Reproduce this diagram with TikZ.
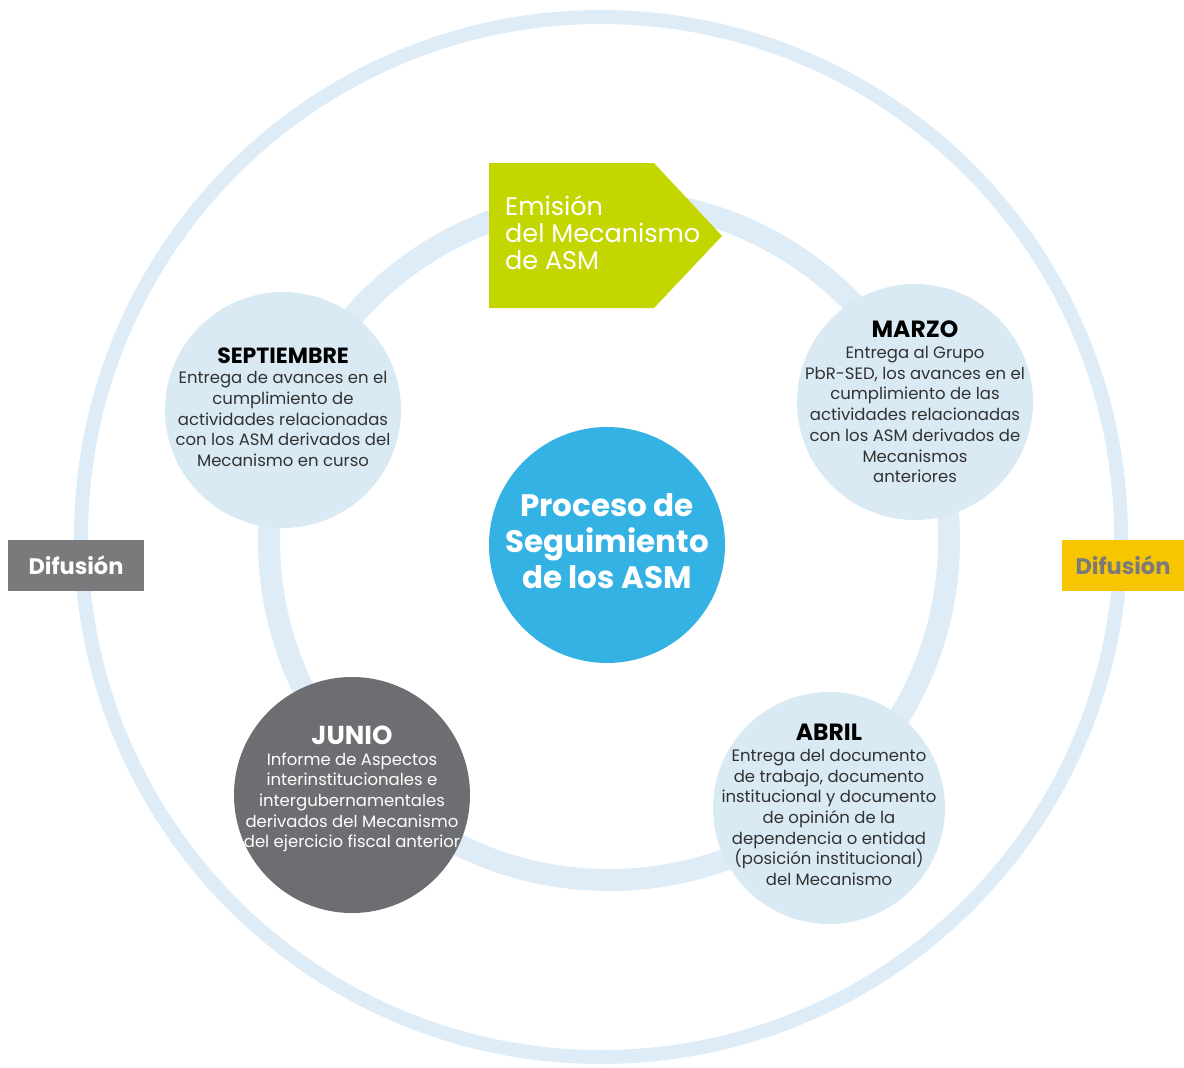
\documentclass[tikz,border=0pt]{standalone}
\usepackage{fontspec}
\setmainfont{Poppins}
\definecolor{ringblue}{RGB}{222,236,248}
\definecolor{lightcirc}{RGB}{218,234,245}
\definecolor{midblue}{RGB}{53,178,228}
\definecolor{darkgrey}{RGB}{109,110,113}
\definecolor{lime}{RGB}{196,214,0}
\definecolor{boxgrey}{RGB}{122,122,124}
\definecolor{gold}{RGB}{247,198,0}
\definecolor{bodytext}{RGB}{50,50,50}
\begin{document}
\begin{tikzpicture}[x=1pt,y=-1pt,
  monthcirc/.style={circle,fill=lightcirc,minimum size=236pt,inner sep=0pt},
  monthtext/.style={align=center,text=bodytext,inner sep=0pt,font=\fontsize{16.5}{20.7}\selectfont},
  difbox/.style={rectangle,minimum height=51pt,inner sep=0pt,font=\fontsize{22.5}{26}\selectfont\bfseries}
]
\useasboundingbox (0,0) rectangle (1184,1068);
% rings
\draw[ringblue,line width=14pt] (601,537) circle[radius=520pt];
\draw[ringblue,line width=22pt] (609,540) circle[radius=340pt];
% centre
\node (centre) [circle,fill=midblue,minimum size=236pt,inner sep=0pt] at (607,545) {};
\node (centret) [align=center,text=white,font=\fontsize{31}{36}\selectfont\bfseries] at (607,541)
  {Proceso de\\Seguimiento\\de los ASM};
% month circles
\node (sep) [monthcirc] at (283,410) {};
\node (mar) [monthcirc] at (915,402) {};
\node (jun) [monthcirc,fill=darkgrey] at (352,795) {};
\node (abr) [monthcirc,minimum size=232pt] at (829,808) {};
\node (sept) [monthtext] at (283,407)
  {{\fontsize{22}{24}\selectfont\bfseries\color{black}SEPTIEMBRE}\\[0pt]
   Entrega de avances en el\\cumplimiento de\\actividades relacionadas\\con los ASM derivados del\\Mecanismo en curso};
\node (mart) [monthtext] at (915,402)
  {{\fontsize{23.5}{24}\selectfont\bfseries\color{black}MARZO}\\[0pt]
   Entrega al Grupo\\PbR-SED, los avances en el\\cumplimiento de las\\actividades relacionadas\\con los ASM derivados de\\Mecanismos\\anteriores};
\node (junt) [monthtext,text=white] at (352,789)
  {{\fontsize{26}{26}\selectfont\bfseries JUNIO}\\[0pt]
   Informe de Aspectos\\interinstitucionales e\\intergubernamentales\\derivados del Mecanismo\\del ejercicio fiscal anterior};
\node (abrt) [monthtext] at (829,805)
  {{\fontsize{23.5}{24}\selectfont\bfseries\color{black}ABRIL}\\[0pt]
   Entrega del documento\\de trabajo, documento\\institucional y documento\\de opinión de la\\dependencia o entidad\\(posición institucional)\\del Mecanismo};
% Emision arrow
\fill[lime] (489,163) -- (654,163) -- (722,236) -- (654,308) -- (489,308) -- cycle;
\node (emi) [anchor=west,align=left,text=white,inner sep=0pt,font=\fontsize{25.5}{27}\selectfont] at (505,233)
  {Emisión\\del Mecanismo\\de ASM};
% Difusion boxes
\node (difl) [difbox,fill=boxgrey,text=white,minimum width=136pt] at (76,565) {Difusión};
\node (difr) [difbox,fill=gold,text=boxgrey,minimum width=122pt] at (1123,565) {Difusión};
\end{tikzpicture}
\end{document}
